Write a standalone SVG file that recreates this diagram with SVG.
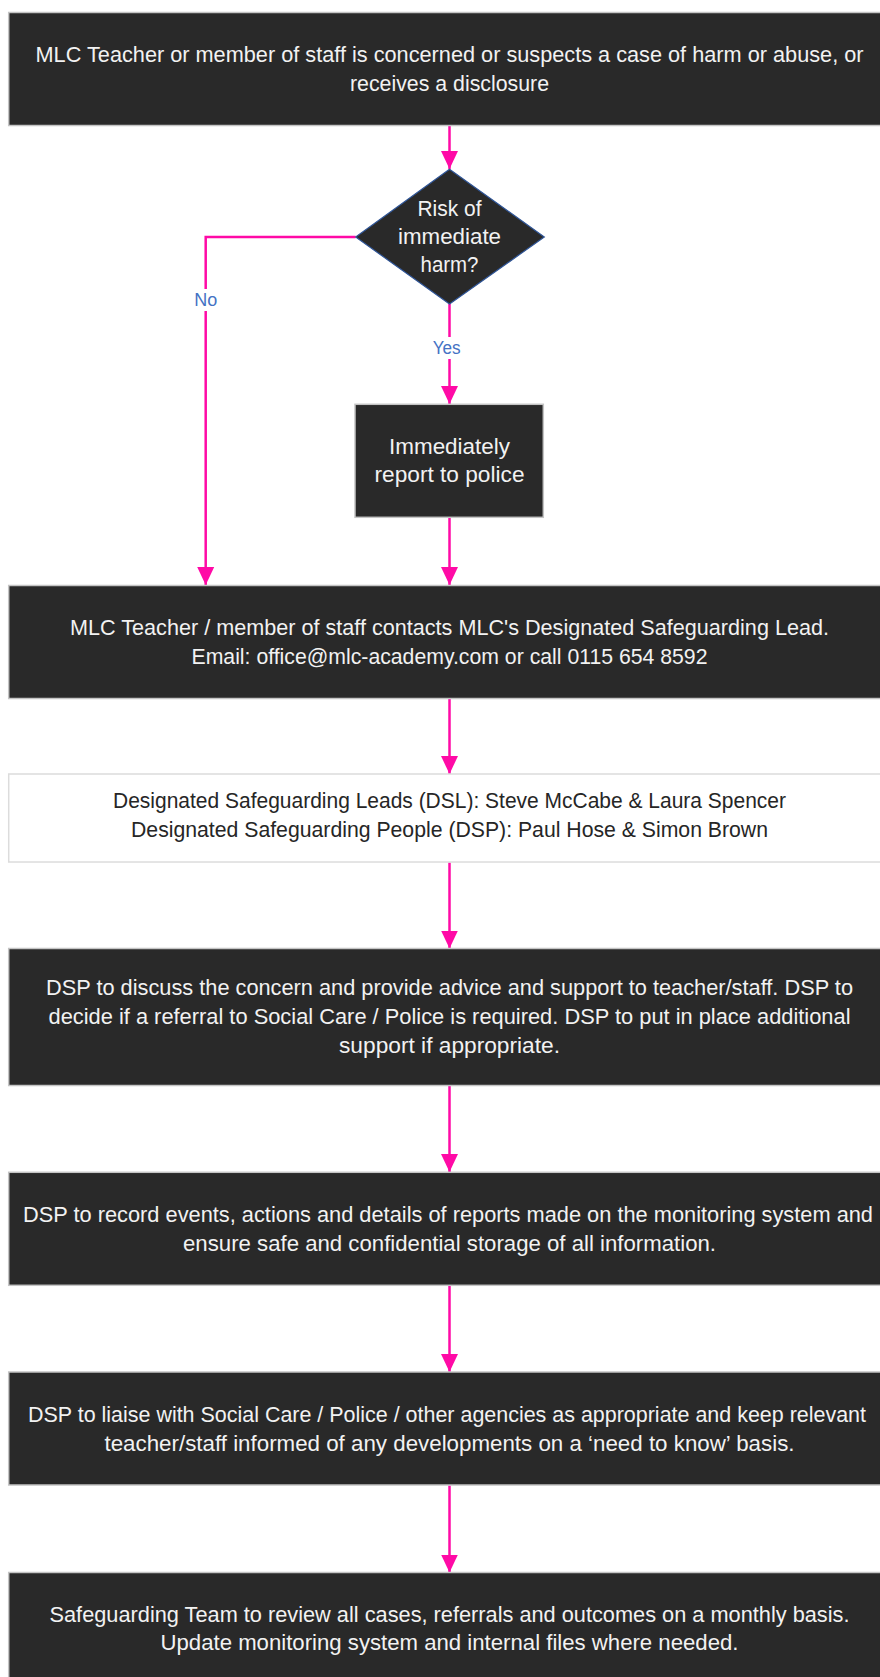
<svg xmlns="http://www.w3.org/2000/svg" width="880" height="1677" viewBox="0 0 880 1677">
<style>
.box{fill:#292929;stroke:#c4c4c4;stroke-width:1.5}
.wbox{fill:#ffffff;stroke:#dcdcdc;stroke-width:1.5}
.dia{fill:#292929;stroke:#2f5597;stroke-width:1.2}
.t{font-family:"Liberation Sans",Arial,sans-serif;font-size:22px;fill:#f2f2f2;text-anchor:middle}
.tk{font-family:"Liberation Sans",Arial,sans-serif;font-size:22px;fill:#262626;text-anchor:middle}
.lbl{font-family:"Liberation Sans",Arial,sans-serif;font-size:17.5px;fill:#4472c4;text-anchor:middle}
.c{fill:none;stroke:#ff0aa6;stroke-width:2.5}
</style>
<defs>
<marker id="ah" markerUnits="userSpaceOnUse" markerWidth="18" markerHeight="18" viewBox="0 0 18 18" refX="18" refY="9" orient="auto">
<path d="M0,0.5 L18,9 L0,17.5 Z" fill="#ff0aa6"/>
</marker>
</defs>
<rect width="880" height="1677" fill="#ffffff"/>
<g id="connectors">
<path class="c" d="M449.5,126 V169" marker-end="url(#ah)"/>
<path class="c" d="M355.7,237 H205.7 V585" marker-end="url(#ah)"/>
<path class="c" d="M449.5,304 V404" marker-end="url(#ah)"/>
<path class="c" d="M449.5,517.5 V585" marker-end="url(#ah)"/>
<path class="c" d="M449.5,698.5 V774" marker-end="url(#ah)"/>
<path class="c" d="M449.5,862.5 V948.5" marker-end="url(#ah)"/>
<path class="c" d="M449.5,1085.5 V1172" marker-end="url(#ah)"/>
<path class="c" d="M449.5,1285.5 V1372" marker-end="url(#ah)"/>
<path class="c" d="M449.5,1485.5 V1572.5" marker-end="url(#ah)"/>
<g id="label-no">
<rect x="195" y="289" width="22" height="22" fill="#ffffff"/>
<text class="lbl" x="205.7" y="305.5" textLength="23" lengthAdjust="spacingAndGlyphs">No</text>
</g>
<g id="label-yes">
<rect x="432" y="337" width="30" height="22" fill="#ffffff"/>
<text class="lbl" x="446.7" y="354" textLength="28" lengthAdjust="spacingAndGlyphs">Yes</text>
</g>
</g>
<g id="n1">
<rect class="box" x="8.7" y="12.5" width="885" height="113"/>
<text class="t" x="449.5" y="62" textLength="828" lengthAdjust="spacingAndGlyphs">MLC Teacher or member of staff is concerned or suspects a case of harm or abuse, or</text>
<text class="t" x="449.5" y="90.5" textLength="199" lengthAdjust="spacingAndGlyphs">receives a disclosure</text>
</g>
<g id="n2">
<polygon class="dia" points="449.5,169.3 544.3,237 449.5,304 355.7,237"/>
<text class="t" x="449.5" y="216" textLength="64" lengthAdjust="spacingAndGlyphs">Risk of</text>
<text class="t" x="449.5" y="244" textLength="103" lengthAdjust="spacingAndGlyphs">immediate</text>
<text class="t" x="449.5" y="272" textLength="58" lengthAdjust="spacingAndGlyphs">harm?</text>
</g>
<g id="n3">
<rect class="box" x="355" y="404.3" width="188.3" height="113"/>
<text class="t" x="449.5" y="454" textLength="121" lengthAdjust="spacingAndGlyphs">Immediately</text>
<text class="t" x="449.5" y="482" textLength="150" lengthAdjust="spacingAndGlyphs">report to police</text>
</g>
<g id="n4">
<rect class="box" x="8.7" y="585.5" width="885" height="113"/>
<text class="t" x="449.5" y="634.5" textLength="759" lengthAdjust="spacingAndGlyphs">MLC Teacher / member of staff contacts MLC's Designated Safeguarding Lead.</text>
<text class="t" x="449.5" y="663.5" textLength="516" lengthAdjust="spacingAndGlyphs">Email: office@mlc-academy.com or call 0115 654 8592</text>
</g>
<g id="n5">
<rect class="wbox" x="8.7" y="774" width="885" height="88"/>
<text class="tk" x="449.5" y="807.5" textLength="673" lengthAdjust="spacingAndGlyphs">Designated Safeguarding Leads (DSL): Steve McCabe &amp; Laura Spencer</text>
<text class="tk" x="449.5" y="836.5" textLength="637" lengthAdjust="spacingAndGlyphs">Designated Safeguarding People (DSP): Paul Hose &amp; Simon Brown</text>
</g>
<g id="n6">
<rect class="box" x="8.7" y="948.5" width="885" height="137"/>
<text class="t" x="449.5" y="995" textLength="807" lengthAdjust="spacingAndGlyphs">DSP to discuss the concern and provide advice and support to teacher/staff. DSP to</text>
<text class="t" x="449.5" y="1024" textLength="802" lengthAdjust="spacingAndGlyphs">decide if a referral to Social Care / Police is required. DSP to put in place additional</text>
<text class="t" x="449.5" y="1052.5" textLength="221" lengthAdjust="spacingAndGlyphs">support if appropriate.</text>
</g>
<g id="n7">
<rect class="box" x="8.7" y="1172.3" width="885" height="113"/>
<text class="t" x="448" y="1221.5" textLength="850" lengthAdjust="spacingAndGlyphs">DSP to record events, actions and details of reports made on the monitoring system and</text>
<text class="t" x="449.5" y="1250.5" textLength="533" lengthAdjust="spacingAndGlyphs">ensure safe and confidential storage of all information.</text>
</g>
<g id="n8">
<rect class="box" x="8.7" y="1372" width="885" height="113"/>
<text class="t" x="447" y="1421.5" font-size="21" textLength="838" lengthAdjust="spacingAndGlyphs">DSP to liaise with Social Care / Police / other agencies as appropriate and keep relevant</text>
<text class="t" x="449.5" y="1450.5" textLength="690" lengthAdjust="spacingAndGlyphs">teacher/staff informed of any developments on a ‘need to know’ basis.</text>
</g>
<g id="n9">
<rect class="box" x="8.7" y="1572.5" width="885" height="120"/>
<text class="t" x="449.5" y="1622" textLength="800" lengthAdjust="spacingAndGlyphs">Safeguarding Team to review all cases, referrals and outcomes on a monthly basis.</text>
<text class="t" x="449.5" y="1650" textLength="578" lengthAdjust="spacingAndGlyphs">Update monitoring system and internal files where needed.</text>
</g>
</svg>
